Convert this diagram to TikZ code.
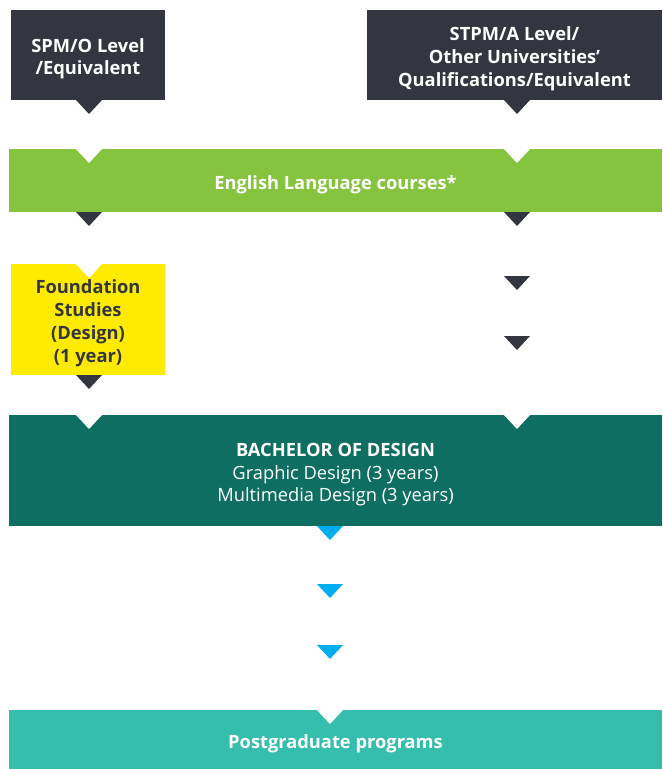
\documentclass[tikz,border=0pt]{standalone}
\usepackage{fontspec}
\setmainfont{Open Sans}
\definecolor{slate}{HTML}{333640}
\definecolor{lime}{HTML}{86C440}
\definecolor{sun}{HTML}{FFEB00}
\definecolor{pine}{HTML}{0F6E62}
\definecolor{sky}{HTML}{00AEEF}
\definecolor{mint}{HTML}{35BDAD}
\tikzset{
	box/.style={rectangle, inner sep=2pt, outer sep=0, align=center, text=white, font=\fontsize{18.3}{22.8}\selectfont},
	heading/.style={font=\fontsize{18.3}{22.8}\selectfont\bfseries},
}
\newcommand{\tip}[2]{\fill[#1] #2 ++(-13,0) -- ++(26,0) -- ++(-13,14) -- cycle;}
\newcommand{\lift}{\rule{0pt}{21.5pt}}
\begin{document}
\begin{tikzpicture}[x=1pt, y=-1pt]
		\useasboundingbox (0,0) rectangle (662,769);

		% entry qualifications
		\node[box, heading, fill=slate, minimum width=154pt, minimum height=90pt] (spm) at (88,55) {\lift SPM/O Level\\/Equivalent};
		\node[box, heading, fill=slate, minimum width=295pt, minimum height=90pt] (stpm) at (514.5,55) {\lift STPM/A Level/\\Other Universities'\\Qualifications/Equivalent};

		\node[box, heading, fill=lime, minimum width=653pt, minimum height=63pt] (eng) at (335.5,180.5) {\lift English Language courses*};

		\node[box, heading, fill=sun, text=slate, minimum width=154pt, minimum height=111pt] (found) at (88,319.5) {\lift Foundation\\Studies\\(Design)\\(1 year)};

		\node[box, fill=pine, minimum width=653pt, minimum height=111pt] (bach) at (335.5,470.5) {\lift\textbf{BACHELOR OF DESIGN}\\Graphic Design (3 years)\\Multimedia Design (3 years)};

		\node[box, heading, fill=mint, minimum width=653pt, minimum height=59pt] (post) at (335.5,739.5) {\lift Postgraduate programs};

		% notches in the bars
		\foreach \x in {89,517}{
				\tip{white}{(\x,149)}
				\tip{white}{(\x,415)}
		}
		\tip{white}{(330,710)}

		% pointers
		\foreach \x in {89,517}{
				\tip{slate}{(\x,100)}
				\tip{slate}{(\x,212)}
		}
		\tip{white}{(89,264)}
		\tip{slate}{(89,375)}
		\foreach \y in {276,336}{
				\tip{slate}{(517,\y)}
		}
		\foreach \y in {526,584,645}{
				\tip{sky}{(330,\y)}
		}

	\end{tikzpicture}
\end{document}
